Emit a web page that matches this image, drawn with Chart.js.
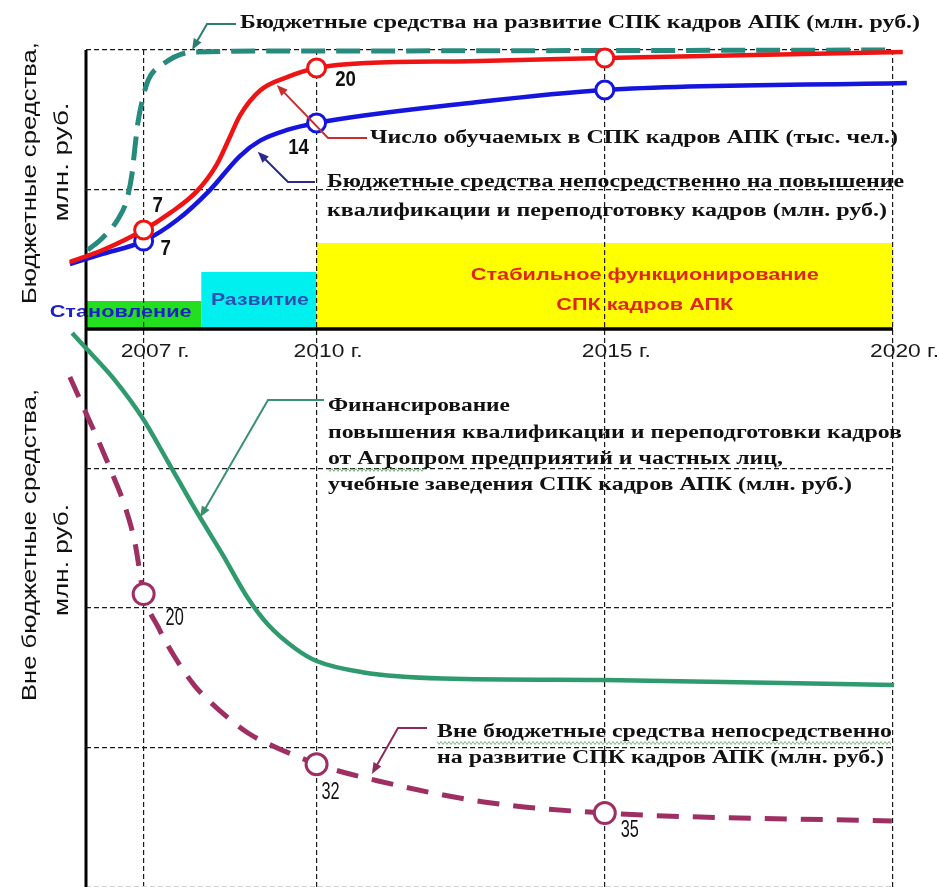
<!DOCTYPE html>
<html>
<head>
<meta charset="utf-8">
<script src="https://cdn.jsdelivr.net/npm/chart.js@4.4.1/dist/chart.umd.min.js"></script>
<style>
  html, body { margin: 0; padding: 0; background: #fff; }
  canvas { display: block; }
</style>
</head>
<body>
<canvas id="chart" width="939" height="887"></canvas>
<script>
// Years shown on the axis and years with circle markers
const yearTicks = [2007, 2010, 2015, 2020]
const markerYears = [2007, 2010, 2015]

// Stages of the system
const phaseNames = ['Становление', 'Развитие', 'Стабильное функционирование\nСПК кадров АПК']
const phaseStart = [2006, 2008, 2010]
const phaseEnd = [2008, 2010, 2020]

// Upper panel: budget funds (schematic units)
const studentsYears = [2005.72, 2006.29, 2007, 2007.46, 2007.93, 2008.27, 2008.5, 2008.67, 2009.02, 2009.49, 2010, 2010.87, 2012.66, 2015, 2020.17]
const studentsValues = [4.8, 5.66, 7.1, 8.32, 9.9, 11.8, 13.8, 15.3, 17.1, 18.06, 18.71, 19.07, 19.2, 19.43, 19.86]
const studentsLabels = ['7', '20', '']

const trainingYears = [2005.72, 2006.29, 2007, 2007.58, 2008.15, 2008.67, 2009.02, 2009.49, 2010, 2012.66, 2015, 2020.24]
const trainingValues = [4.66, 5.38, 6.3, 7.81, 9.96, 12.4, 13.5, 14.27, 14.77, 16.2, 17.13, 17.63]
const trainingLabels = ['7', '14', '']

const developYears = [2006.03, 2006.29, 2006.56, 2006.71, 2006.8, 2006.85, 2006.9, 2006.97, 2007.08, 2007.34, 2007.86, 2010, 2015, 2020]
const developValues = [5.66, 6.55, 7.9, 9.3, 11.18, 13.05, 14.77, 16.27, 17.85, 19.0, 19.86, 19.93, 19.96, 20.0]

// Lower panel: non-budget funds (axis grows downward)
const privateYears = [2005.76, 2006.03, 2006.5, 2006.97, 2007.42, 2007.89, 2008.36, 2008.81, 2009.16, 2009.63, 2010, 2010.79, 2012.19, 2015, 2020.02]
const privateValues = [0.29, 1.5, 3.66, 6.31, 9.5, 12.9, 16.1, 19.3, 21.2, 22.9, 23.8, 24.6, 25.05, 25.16, 25.52]

const offBudgetYears = [2005.72, 2006.03, 2006.21, 2006.45, 2006.68, 2006.85, 2007, 2007.25, 2007.54, 2007.89, 2008.36, 2008.81, 2009.28, 2009.85, 2010, 2011.07, 2012.9, 2015, 2019.98]
const offBudgetValues = [3.44, 6.31, 7.96, 10.32, 12.76, 15.34, 19.0, 21.36, 23.51, 25.6, 27.5, 28.96, 29.96, 30.95, 31.2, 32.4, 33.9, 34.7, 35.27]
const offBudgetLabels = ['20', '32', '35']

const toPoints = (xs, ys) => xs.map((x, i) => ({ x, y: ys[i] }))

const markerRadius = (r) => (ctx) => (ctx.raw && markerYears.includes(ctx.raw.x) ? r : 0)

const drawText = (ctx, text, x, y, opts) => {
  const { font, color, width, scaleX = 1, align = 'left', rotate = 0 } = opts
  ctx.save()
  ctx.font = font
  ctx.fillStyle = color
  ctx.textBaseline = 'middle'
  ctx.textAlign = 'left'
  const w = ctx.measureText(text).width
  const sx = width ? width / w : scaleX
  ctx.translate(x, y)
  if (rotate) ctx.rotate(rotate)
  ctx.scale(sx, 1)
  ctx.fillText(text, align === 'center' ? -w / 2 : 0, 0)
  ctx.restore()
}

const drawLeader = (ctx, pts, color) => {
  ctx.save()
  ctx.strokeStyle = color
  ctx.fillStyle = color
  ctx.lineWidth = 2
  const b = pts[pts.length - 1]
  const a = pts[pts.length - 2]
  const ang = Math.atan2(b.y - a.y, b.x - a.x)
  ctx.beginPath()
  ctx.moveTo(pts[0].x, pts[0].y)
  pts.slice(1, -1).forEach(p => ctx.lineTo(p.x, p.y))
  ctx.lineTo(b.x - 8 * Math.cos(ang), b.y - 8 * Math.sin(ang))
  ctx.stroke()
  ctx.beginPath()
  ctx.moveTo(b.x, b.y)
  ctx.lineTo(b.x - 12 * Math.cos(ang - 0.38), b.y - 12 * Math.sin(ang - 0.38))
  ctx.lineTo(b.x - 12 * Math.cos(ang + 0.38), b.y - 12 * Math.sin(ang + 0.38))
  ctx.closePath()
  ctx.fill()
  ctx.restore()
}

// spell-check style squiggle under some words of the original
const squiggle = (ctx, x0, x1, y) => {
  ctx.save()
  ctx.strokeStyle = '#7cb87c'
  ctx.lineWidth = 1
  ctx.beginPath()
  for (let x = x0, k = 0; x <= x1; x += 2, k++) {
    const yy = y + (k % 2 ? 1.5 : -1.5)
    if (k === 0) ctx.moveTo(x, yy)
    else ctx.lineTo(x, yy)
  }
  ctx.stroke()
  ctx.restore()
}

const serif = 'bold 18px "Liberation Serif", "Times New Roman", serif'
const sans = '"Liberation Sans", Arial, sans-serif'

const phaseStyle = [
  { fill: '#22e01e', height: 28, color: '#1f1fc8', lines: [{ dx: -23, dy: -17, w: 142 }] },
  { fill: '#00f0f0', height: 57, color: '#2f4fb0', lines: [{ dx: 1, dy: -29, w: 98 }] },
  { fill: '#ffff00', height: 86, color: '#e0261a', lines: [{ dx: 40, dy: -54, w: 348 }, { dx: 40, dy: -24, w: 177 }] }
]

const schemePlugin = {
  id: 'scheme',
  beforeDraw(chart) {
    const { ctx, scales: { x, y } } = chart
    const base = y.getPixelForValue(0)
    phaseNames.forEach((name, i) => {
      const st = phaseStyle[i]
      const x0 = x.getPixelForValue(phaseStart[i])
      const x1 = x.getPixelForValue(phaseEnd[i])
      ctx.fillStyle = st.fill
      ctx.fillRect(x0, base - st.height, x1 - x0, st.height)
    })
  },
  beforeDatasetsDraw(chart) {
    const { ctx, chartArea, scales: { x, y } } = chart
    const base = y.getPixelForValue(0)
    // phase captions
    phaseNames.forEach((name, i) => {
      const st = phaseStyle[i]
      const mid = (x.getPixelForValue(phaseStart[i]) + x.getPixelForValue(phaseEnd[i])) / 2
      name.split('\n').forEach((line, j) => {
        const l = st.lines[j]
        drawText(ctx, line, mid + l.dx, base + l.dy, { font: 'bold 17px ' + sans, color: st.color, width: l.w, align: 'center' })
      })
    })
    // main axes
    ctx.save()
    ctx.strokeStyle = '#000'
    ctx.lineWidth = 3
    ctx.beginPath()
    ctx.moveTo(chartArea.left, chartArea.top)
    ctx.lineTo(chartArea.left, chartArea.bottom)
    ctx.stroke()
    ctx.lineWidth = 3.5
    ctx.beginPath()
    ctx.moveTo(chartArea.left, base)
    ctx.lineTo(x.getPixelForValue(2020), base)
    ctx.stroke()
    ctx.restore()
    // year labels
    yearTicks.forEach(yr => {
      drawText(ctx, yr + ' г.', x.getPixelForValue(yr) - 23, base + 23, { font: '18px ' + sans, color: '#1a1a1a', width: 69 })
    })
    // axis titles
    const rot = -Math.PI / 2
    drawText(ctx, 'Бюджетные средства,', 30, 173, { font: '21px ' + sans, color: '#111', width: 262, align: 'center', rotate: rot })
    drawText(ctx, 'млн. руб.', 62, 162, { font: '21px ' + sans, color: '#111', width: 119, align: 'center', rotate: rot })
    drawText(ctx, 'Вне бюджетные средства,', 30, 545, { font: '21px ' + sans, color: '#111', width: 312, align: 'center', rotate: rot })
    drawText(ctx, 'млн. руб.', 62, 560, { font: '21px ' + sans, color: '#111', width: 112, align: 'center', rotate: rot })
  },
  afterDatasetsDraw(chart) {
    const { ctx, scales: { x, y, y2 } } = chart
    const P = (yr, v, s = y) => ({ x: x.getPixelForValue(yr), y: s.getPixelForValue(v) })

    // value labels beside markers
    const topFont = 'bold 22px ' + sans
    const lowFont = '24px ' + sans
    const put = (labels, years, values, scale, offs, font, sx) => {
      markerYears.forEach((yr, i) => {
        if (!labels[i]) return
        const p = P(yr, values[years.indexOf(yr)], scale)
        drawText(ctx, labels[i], p.x + offs[i][0], p.y + offs[i][1], { font, color: '#111', scaleX: sx, align: 'center' })
      })
    }
    put(studentsLabels, studentsYears, studentsValues, y, [[14, -24], [29, 12]], topFont, 0.85)
    put(trainingLabels, trainingYears, trainingValues, y, [[22, 8], [-18, 25]], topFont, 0.85)
    put(offBudgetLabels, offBudgetYears, offBudgetValues, y2, [[31, 24], [14, 28], [25, 17]], lowFont, 0.68)

    // leaders
    drawLeader(ctx, [{ x: 236, y: 24 }, { x: 207, y: 24 }, P(2007.84, 20)], '#2a7e72')
    drawLeader(ctx, [{ x: 367, y: 138 }, { x: 328, y: 138 }, P(2009.31, 17.5)], '#c83030')
    drawLeader(ctx, [{ x: 315, y: 182 }, { x: 288, y: 182 }, P(2008.98, 12.7)], '#2a2a8e')
    drawLeader(ctx, [{ x: 324, y: 400 }, { x: 268, y: 400 }, P(2007.98, 13.5, y2)], '#3a9070')
    drawLeader(ctx, [{ x: 427, y: 728 }, { x: 398, y: 728 }, P(2010.96, 31.9, y2)], '#8e2a58')

    // annotation texts
    const note = (t, px, py, w) => drawText(ctx, t, px, py, { font: serif, color: '#111', width: w })
    note('Бюджетные средства на развитие СПК кадров АПК (млн. руб.)', 240, 23, 680)
    note('Число обучаемых в СПК кадров АПК (тыс. чел.)', 370, 138, 528)
    note('Бюджетные средства непосредственно на повышение', 327, 182, 577)
    note('квалификации и переподготовку кадров (млн. руб.)', 327, 211, 560)
    note('Финансирование', 328, 406, 182)
    note('повышения квалификации и переподготовки кадров', 328, 433, 574)
    note('от Агропром предприятий и частных лиц,', 328, 459, 455)
    note('учебные заведения СПК кадров АПК (млн. руб.)', 328, 485, 524)
    note('Вне бюджетные средства непосредственно', 437, 732, 455)
    note('на развитие СПК кадров АПК (млн. руб.)', 437, 758, 447)
    squiggle(ctx, 328, 425, 470)
    squiggle(ctx, 437, 892, 743)
  }
}

const gridColor = (ctx) => {
  const v = ctx.tick.value
  if (v === 0 || v === 2006) return 'rgba(0,0,0,0)'
  if (v === -40) return '#cfcfcf'
  return '#1a1a1a'
}

new Chart(document.getElementById('chart'), {
  type: 'line',
  data: {
    datasets: [
      {
        label: 'Число обучаемых в СПК кадров АПК (тыс. чел.)',
        data: toPoints(studentsYears, studentsValues),
        yAxisID: 'y',
        borderColor: '#ee1414',
        borderWidth: 4.5,
        pointRadius: markerRadius(9),
        pointBorderColor: '#ee1414'
      },
      {
        label: 'Бюджетные средства непосредственно на повышение квалификации и переподготовку кадров (млн. руб.)',
        data: toPoints(trainingYears, trainingValues),
        yAxisID: 'y',
        borderColor: '#1515dd',
        borderWidth: 4.5,
        pointRadius: markerRadius(9),
        pointBorderColor: '#1515dd'
      },
      {
        label: 'Бюджетные средства на развитие СПК кадров АПК (млн. руб.)',
        data: toPoints(developYears, developValues),
        yAxisID: 'y',
        borderColor: '#268a7c',
        borderWidth: 5,
        borderDash: [24, 11],
        pointRadius: 0
      },
      {
        label: 'Финансирование от Агропром предприятий и частных лиц (млн. руб.)',
        data: toPoints(privateYears, privateValues),
        yAxisID: 'y2',
        borderColor: '#2f9a6e',
        borderWidth: 4.5,
        pointRadius: 0
      },
      {
        label: 'Вне бюджетные средства непосредственно на развитие СПК кадров АПК (млн. руб.)',
        data: toPoints(offBudgetYears, offBudgetValues),
        yAxisID: 'y2',
        borderColor: '#9e2f63',
        borderWidth: 5,
        borderDash: [22, 14],
        pointRadius: markerRadius(10.5),
        pointBorderColor: '#9e2f63'
      }
    ]
  },
  options: {
    responsive: false,
    animation: false,
    devicePixelRatio: 1,
    events: [],
    layout: { padding: { left: 86, right: 46, top: 50, bottom: 0 } },
    datasets: {
      line: {
        cubicInterpolationMode: 'monotone',
        fill: false,
        clip: false,
        pointBackgroundColor: '#fff',
        pointBorderWidth: 3
      }
    },
    plugins: {
      legend: { display: false },
      tooltip: { enabled: false }
    },
    scales: {
      x: {
        type: 'linear',
        min: 2006,
        max: 2020,
        afterBuildTicks: (s) => { s.ticks = [2006, ...yearTicks].map(value => ({ value })) },
        ticks: { display: false },
        grid: { color: gridColor, lineWidth: 1.2, drawTicks: false },
        border: { display: false, dash: [5, 3] }
      },
      y: {
        type: 'linear',
        min: -40,
        max: 20,
        ticks: { display: false, stepSize: 10 },
        grid: { color: gridColor, lineWidth: 1.2, drawTicks: false },
        border: { display: false, dash: [5, 3] }
      },
      y2: {
        type: 'linear',
        position: 'right',
        reverse: true,
        min: -20,
        max: 40,
        display: false
      }
    }
  },
  plugins: [schemePlugin]
})
</script>
</body>
</html>
